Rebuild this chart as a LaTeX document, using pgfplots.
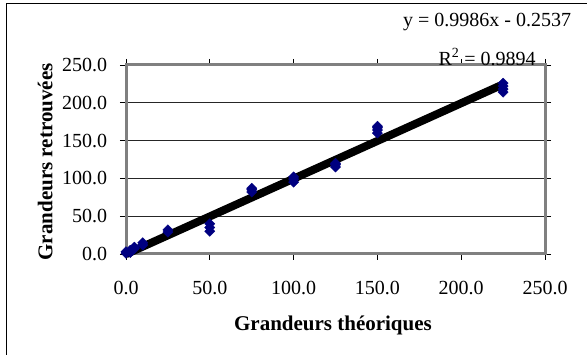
\documentclass[border=0pt]{standalone}
\usepackage{fontspec}
\setmainfont{Liberation Serif}
\usepackage{pgfplots}
\pgfplotsset{compat=1.18}
\definecolor{navy}{RGB}{0,0,128}
\definecolor{framegray}{RGB}{128,128,128}
\begin{document}
\fontsize{20}{24}\selectfont
\begin{tikzpicture}[x=1pt,y=1pt]
\useasboundingbox (0,0) rectangle (587,355);
\draw[line width=1pt] (587,351) -- (6.5,351) -- (6.5,0);
\begin{axis}[
  at={(126pt,101pt)}, anchor=south west,
  scale only axis, width=419pt, height=189pt,
  xmin=0, xmax=250, ymin=0, ymax=250,
  xtick={0,50,100,150,200,250},
  ytick={0,50,100,150,200,250},
  /pgf/number format/assume math mode=true,
  /pgf/number format/.cd, fixed, fixed zerofill, precision=1, /pgfplots/.cd,
  tick label style={font=\fontsize{20}{24}\selectfont},
  xticklabel style={yshift=-14pt},
  yticklabel style={xshift=-6pt},
  tick align=outside,
  major tick length=6pt,
  tick style={black, line width=0.8pt},
  axis line style={framegray, line width=3pt},
  ymajorgrids,
  major grid style={black!85, line width=0.8pt},
  xlabel={\textbf{Grandeurs théoriques}},
  ylabel={\textbf{Grandeurs retrouvées}},
  label style={font=\fontsize{21}{25}\selectfont},
  xlabel style={at={(axis description cs:0.494,-0.376)}, anchor=center},
  ylabel style={at={(axis description cs:-0.193,0.487)}, anchor=center},
  clip=false,
]
\addplot[only marks, mark=square*, mark size=3.6pt, mark options={rotate=45}, color=navy] coordinates {
(0,1) (0,3) (2.5,2) (2.5,5) (5,7) (5,9) (10,12) (10,15)
(25,29) (25,32) (50,30) (50,35) (50,40)
(75,82) (75,85) (75,87) (100,95) (100,99) (100,102)
(125,115) (125,118) (125,120)
(150,160) (150,164) (150,167) (150,169)
(225,214) (225,218) (225,222) (225,226)
};
\addplot[black, line width=8pt] coordinates {(0,-0.2537) (225,224.4313)};
\node[anchor=center] at (axis description cs:0.862,1.228) {y = 0.9986x - 0.2537};
\node[anchor=center] at (axis description cs:0.862,1.042) {R\textsuperscript{2} = 0.9894};
\end{axis}
\end{tikzpicture}
\end{document}
